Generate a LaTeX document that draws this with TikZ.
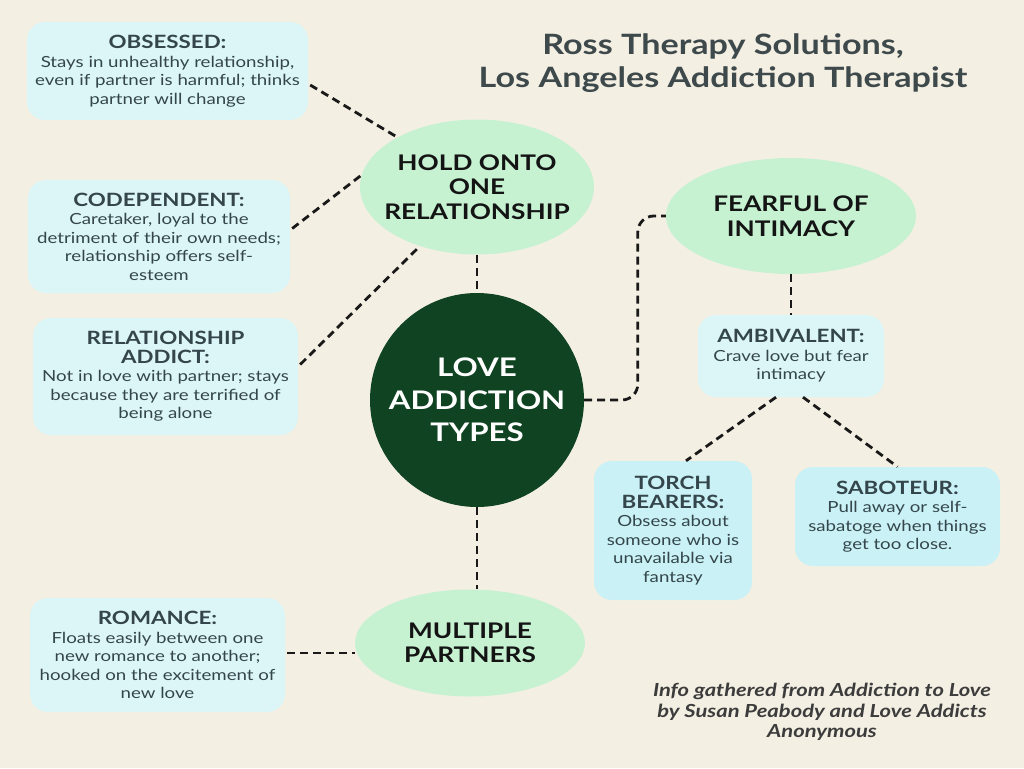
\documentclass[tikz,border=0pt]{standalone}
\usepackage{fontspec}
\setmainfont{Lato}[FakeStretch=1.22]
\usetikzlibrary{shapes.geometric,calc}
\definecolor{bg}{HTML}{F4EFE3}
\definecolor{boxc}{HTML}{DCF6F8}
\definecolor{boxd}{HTML}{C9F1F6}
\definecolor{ell}{HTML}{C6F2D2}
\definecolor{dkgreen}{HTML}{0F4321}
\definecolor{txt}{HTML}{34464B}
\definecolor{ttl}{HTML}{3E494C}
\definecolor{foot}{HTML}{3C3C3C}
\newcommand{\hd}[1]{{\fontsize{18.3}{21}\selectfont\bfseries #1}}
\tikzset{
  box/.style={rounded corners=18pt, fill=boxc, inner sep=0pt, align=center, text=txt,
    font=\fontsize{15.3}{18.5}\selectfont},
  ellnode/.style={ellipse, fill=ell, inner sep=-30pt, align=center, text=black!92,
    font=\fontsize{21.5}{24.5}\selectfont\bfseries},
  conn/.style={draw=black!90, line width=2.8pt, dash pattern=on 8pt off 5pt},
}
\begin{document}
\begin{tikzpicture}[x=1pt,y=-1pt]
\fill[bg] (0,0) rectangle (1024,768);
\useasboundingbox (0,0) rectangle (1024,768);

% title
\node[align=center, text=ttl, font=\fontsize{28}{33}\selectfont\bfseries] (title) at (723,63)
  {Ross Therapy Solutions,\\Los Angeles Addiction Therapist};

% left boxes
\node[box, minimum width=281pt, minimum height=98pt] (obs) at (167.5,71)
  {\hd{OBSESSED:}\\Stays in unhealthy relationship,\\even if partner is harmful; thinks\\partner will change};
\node[box, minimum width=262pt, minimum height=113pt] (cod) at (159,236.5)
  {\hd{CODEPENDENT:}\\Caretaker, loyal to the\\detriment of their own needs;\\relationship offers self-\\esteem};
\node[box, minimum width=265pt, minimum height=117pt] (rel) at (165.5,376.5)
  {\hd{RELATIONSHIP}\\\hd{ADDICT:}\\Not in love with partner; stays\\because they are terrified of\\being alone};
\node[box, minimum width=255pt, minimum height=114pt] (rom) at (157.5,655)
  {\hd{ROMANCE:}\\Floats easily between one\\new romance to another;\\hooked on the excitement of\\new love};

% ellipses
\node[ellnode, minimum width=234pt, minimum height=135pt] (hold) at (477,187)
  {HOLD ONTO\\ONE\\RELATIONSHIP};
\node[ellnode, minimum width=250pt, minimum height=116pt] (fear) at (791,216)
  {FEARFUL OF\\INTIMACY};
\node[ellnode, minimum width=230pt, minimum height=107pt] (multi) at (470,643)
  {MULTIPLE\\PARTNERS};

% center
\node[circle, fill=dkgreen, minimum size=214pt, inner sep=0pt, align=center, text=white,
  font=\fontsize{25.6}{32.5}\selectfont\bfseries] (love) at (477,400)
  {LOVE\\ADDICTION\\TYPES};

% right boxes
\node[box, minimum width=186pt, minimum height=82pt] (amb) at (791,356)
  {\hd{AMBIVALENT:}\\Crave love but fear\\intimacy};
\node[box, fill=boxd, minimum width=158pt, minimum height=139pt] (torch) at (673,530.5)
  {\hd{TORCH}\\\hd{BEARERS:}\\Obsess about\\someone who is\\unavailable via\\fantasy};
\node[box, fill=boxd, minimum width=205pt, minimum height=99pt] (sab) at (897.5,516.5)
  {\hd{SABOTEUR:}\\Pull away or self-\\sabatoge when things\\get too close.};

% footer
\node[align=center, text=foot, font=\fontsize{18}{20.5}\selectfont\bfseries\itshape] (note) at (822,712)
  {Info gathered from Addiction to Love\\by Susan Peabody and Love Addicts\\Anonymous};

% connectors
\draw[conn] ($(obs.east)+(2,14)$) -- (hold.148);
\draw[conn] ($(cod.east)+(2,-8)$) -- (hold.174);
\draw[conn] ($(rel.east)+(2,-12)$) -- (hold.226);
\draw[conn] (hold.south) -- (love.north);
\draw[conn, rounded corners=16pt] (love.east) -| ($(fear.west)+(-28,0)$) -- (fear.west);
\draw[conn] (fear.south) -- (amb.north);
\draw[conn] ($(amb.south)+(-15,0)$) -- ($(torch.north)+(13,0)$);
\draw[conn] ($(amb.south)+(12,0)$) -- (sab.north);
\draw[conn] (love.south) -- (love.south |- multi.north);
\draw[conn] ($(rom.east)+(2,-2)$) -- ($(rom.east)+(70,-2)$);
\end{tikzpicture}
\end{document}
